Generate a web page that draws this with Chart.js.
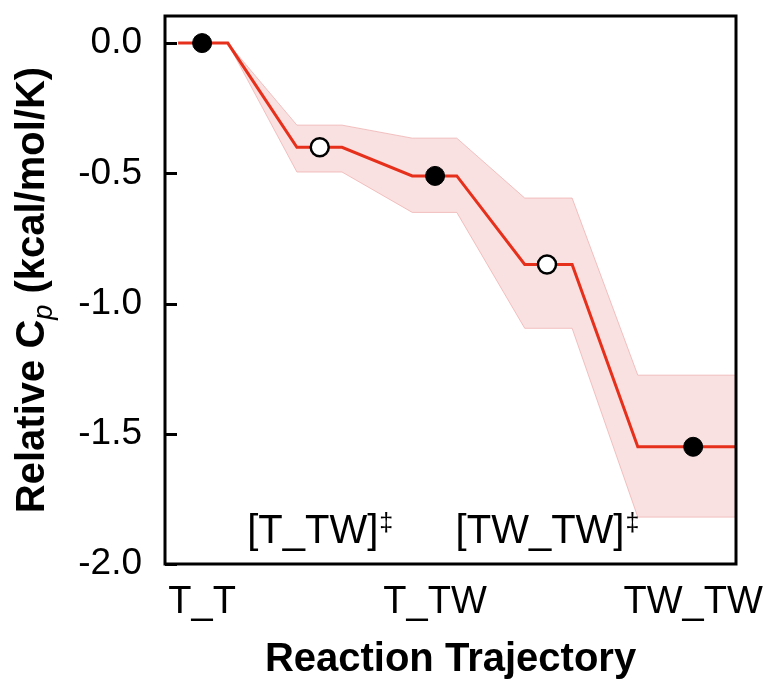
<!DOCTYPE html>
<html>
<head>
<meta charset="utf-8">
<script src="https://cdn.jsdelivr.net/npm/chart.js@4.4.1/dist/chart.umd.min.js"></script>
<style>
    html, body { margin: 0; padding: 0; background: #fff; }
    #wrap { width: 766px; height: 684px; }
</style>
</head>
<body>
<div id="wrap"><canvas id="cpChart" width="766" height="684"></canvas></div>
<script>
// reaction coordinate runs 0..10 across the frame, Cp in kcal/mol/K
const trajX   = [0.23, 1.10, 2.31, 3.10, 4.33, 5.11, 6.30, 7.13, 8.28, 10.0];
const meanCp  = [0, 0, -0.40, -0.40, -0.51, -0.51, -0.85, -0.85, -1.55, -1.55];
const upperCp = [0, 0, -0.315, -0.315, -0.365, -0.365, -0.595, -0.595, -1.275, -1.275];
const lowerCp = [0, 0, -0.495, -0.495, -0.65, -0.65, -1.095, -1.095, -1.82, -1.82];

// stable states (filled) and transition states (open)
const stateX = [0.65, 4.73, 9.25];
const stateCp = [0, -0.51, -1.55];
const stateLabels = ['T_T', 'T_TW', 'TW_TW'];
const tsX = [2.71, 6.69];
const tsCp = [-0.40, -0.85];
const tsLabels = ['[T_TW]', '[TW_TW]'];
const tsLabelCp = -1.92;

const yTicks = [0, -0.5, -1.0, -1.5, -2.0];

const FONT = '"Liberation Sans", Arial, Helvetica, sans-serif';

function toXY(xs, ys) {
    return xs.map((x, i) => ({ x: x, y: ys[i] }));
}

// black box round the plot plus the inward y tick marks
const framePlugin = {
    id: 'frame',
    afterDraw(chart) {
        const { ctx, chartArea: a } = chart;
        const ys = chart.scales.y;
        ctx.save();
        ctx.strokeStyle = '#000';
        ctx.lineWidth = 3;
        ctx.strokeRect(a.left, a.top, a.right - a.left, a.bottom - a.top);
        yTicks.forEach(v => {
            const py = Math.round(ys.getPixelForValue(v)) + 0.5;
            ctx.beginPath();
            ctx.moveTo(a.left, py);
            ctx.lineTo(a.left + 12, py);
            ctx.stroke();
        });
        ctx.restore();
    }
};

// y title needs an italic subscript p
const yTitlePlugin = {
    id: 'yTitle',
    afterDraw(chart) {
        const { ctx, chartArea: a } = chart;
        const cy = (a.top + a.bottom) / 2;
        const parts = [
            { t: 'Relative C', f: 'bold 40px ' + FONT, dy: 0 },
            { t: 'p', f: 'italic 27px ' + FONT, dy: 8 },
            { t: ' (kcal/mol/K)', f: 'bold 40px ' + FONT, dy: 0 }
        ];
        ctx.save();
        ctx.translate(44, cy);
        ctx.rotate(-Math.PI / 2);
        let total = 0;
        parts.forEach(p => { ctx.font = p.f; p.w = ctx.measureText(p.t).width; total += p.w; });
        let x = -total / 2;
        ctx.fillStyle = '#000';
        ctx.textBaseline = 'alphabetic';
        parts.forEach(p => {
            ctx.font = p.f;
            ctx.fillText(p.t, x, p.dy);
            x += p.w;
        });
        ctx.restore();
    }
};

// transition state names under the open circles
const tsLabelPlugin = {
    id: 'tsLabels',
    afterDraw(chart) {
        const { ctx } = chart;
        const xs = chart.scales.x, ys = chart.scales.y;
        const mainFont = '40px ' + FONT;
        const supFont = '25px ' + FONT;
        ctx.save();
        ctx.fillStyle = '#000';
        ctx.textBaseline = 'alphabetic';
        tsLabels.forEach((lab, i) => {
            ctx.font = mainFont;
            const w1 = ctx.measureText(lab).width;
            ctx.font = supFont;
            const w2 = ctx.measureText('\u2021').width;
            const px = xs.getPixelForValue(tsX[i]);
            const py = ys.getPixelForValue(tsLabelCp);
            let x = px - (w1 + w2) / 2;
            ctx.font = mainFont;
            ctx.fillText(lab, x, py);
            ctx.font = supFont;
            ctx.fillText('\u2021', x + w1 + 1, py - 12);
        });
        ctx.restore();
    }
};

const ctx = document.getElementById('cpChart').getContext('2d');
new Chart(ctx, {
    type: 'line',
    data: {
        datasets: [
            { label: 'states', type: 'scatter', data: toXY(stateX, stateCp), order: 0,
              pointRadius: 9.5, pointBackgroundColor: '#000', pointBorderColor: '#000', pointBorderWidth: 1, showLine: false },
            { label: 'ts', type: 'scatter', data: toXY(tsX, tsCp), order: 1,
              pointRadius: 9, pointBackgroundColor: '#fff', pointBorderColor: '#000', pointBorderWidth: 2.5, showLine: false },
            { label: 'mean', data: toXY(trajX, meanCp), order: 2,
              borderColor: '#e6301c', borderWidth: 3, pointRadius: 0, fill: false, tension: 0 },
            { label: 'upper', data: toXY(trajX, upperCp), order: 3,
              borderColor: 'rgba(236,170,170,0.7)', borderWidth: 1, pointRadius: 0, fill: false, tension: 0 },
            { label: 'lower', data: toXY(trajX, lowerCp), order: 4,
              borderColor: 'rgba(236,170,170,0.7)', borderWidth: 1, pointRadius: 0, tension: 0,
              fill: '-1', backgroundColor: 'rgba(246,200,200,0.55)' }
        ]
    },
    options: {
        responsive: false,
        animation: false,
        layout: { padding: { left: 0, top: 16, right: 30, bottom: 0 } },
        plugins: { legend: { display: false }, tooltip: { enabled: false } },
        scales: {
            x: {
                type: 'linear', min: 0, max: 10,
                afterBuildTicks: s => { s.ticks = stateX.map(v => ({ value: v })); },
                afterFit: s => { s.height = 120; s.paddingLeft = 0; s.paddingRight = 0; },
                grid: { display: false, drawTicks: false },
                border: { display: false },
                ticks: { autoSkip: false, maxRotation: 0, padding: 16, color: '#000',
                         font: { family: FONT, size: 38 },
                         callback: (v, i) => stateLabels[i] },
                title: { display: true, text: 'Reaction Trajectory', color: '#000',
                         font: { family: FONT, size: 40, weight: 'bold' }, padding: { top: 0, bottom: 0 } }
            },
            y: {
                min: -2.0, max: 0.104,
                afterBuildTicks: s => { s.ticks = yTicks.map(v => ({ value: v })); },
                afterFit: s => { s.width = 165; s.paddingTop = 0; s.paddingBottom = 0; },
                grid: { display: false, drawTicks: false },
                border: { display: false },
                ticks: { padding: 23, color: '#000', font: { family: FONT, size: 37 },
                         callback: v => v.toFixed(1) }
            }
        }
    },
    plugins: [framePlugin, yTitlePlugin, tsLabelPlugin]
});
</script>
</body>
</html>
